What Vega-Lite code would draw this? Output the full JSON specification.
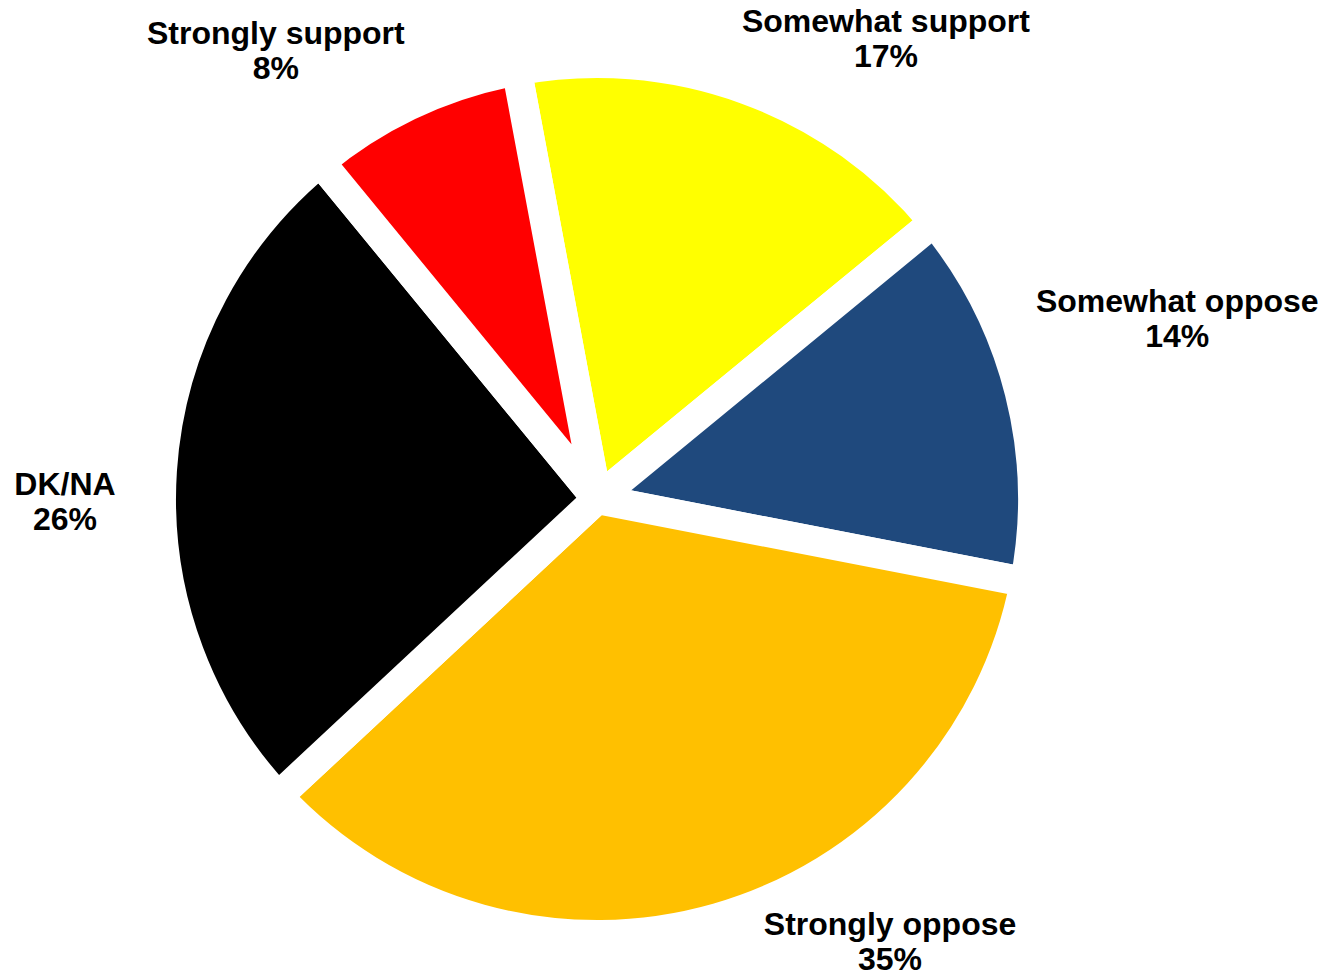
{
  "$schema": "https://vega.github.io/schema/vega-lite/v6.json",
  "width": 1194,
  "height": 958,
  "autosize": "none",
  "padding": {"left": 0, "top": 20, "right": 132, "bottom": 0},
  "background": "white",
  "view": {"stroke": null},
  "data": {
    "values": [
      {"category": "Somewhat support", "share": 0.17},
      {"category": "Somewhat oppose", "share": 0.14},
      {"category": "Strongly oppose", "share": 0.35},
      {"category": "DK/NA", "share": 0.26},
      {"category": "Strongly support", "share": 0.08}
    ]
  },
  "transform": [{"window": [{"op": "row_number", "as": "slice_order"}]}],
  "encoding": {
    "theta": {
      "field": "share",
      "type": "quantitative",
      "stack": true,
      "scale": {"range": [-0.185, 6.0982]}
    },
    "order": {"field": "slice_order", "type": "quantitative"}
  },
  "layer": [
    {
      "mark": {"type": "arc", "outerRadius": 436, "stroke": "#FFFFFF", "strokeWidth": 30, "strokeJoin": "miter"},
      "encoding": {
        "color": {
          "field": "category",
          "type": "nominal",
          "scale": {
            "domain": ["Somewhat support", "Somewhat oppose", "Strongly oppose", "DK/NA", "Strongly support"],
            "range": ["#FFFF00", "#1F497D", "#FFC000", "#000000", "#FF0000"]
          },
          "legend": null
        }
      }
    },
    {
      "mark": {
        "type": "text",
        "radius": 450,
        "align": "center",
        "baseline": "middle",
        "font": "Liberation Sans",
        "fontWeight": "bold",
        "fontSize": 32,
        "color": "#000000",
        "dx": {"expr": "datum.category === 'Somewhat support' ? 135 : datum.category === 'Somewhat oppose' ? 144 : datum.category === 'Strongly oppose' ? 169 : datum.category === 'DK/NA' ? -83 : -131"},
        "dy": {"expr": "(datum.category === 'Somewhat support' ? -36 : datum.category === 'Somewhat oppose' ? -69 : datum.category === 'Strongly oppose' ? 11 : datum.category === 'DK/NA' ? 34 : -39) - 18"}
      },
      "encoding": {"text": {"field": "category", "type": "nominal"}}
    },
    {
      "mark": {
        "type": "text",
        "radius": 450,
        "align": "center",
        "baseline": "middle",
        "font": "Liberation Sans",
        "fontWeight": "bold",
        "fontSize": 32,
        "color": "#000000",
        "dx": {"expr": "datum.category === 'Somewhat support' ? 135 : datum.category === 'Somewhat oppose' ? 144 : datum.category === 'Strongly oppose' ? 169 : datum.category === 'DK/NA' ? -83 : -131"},
        "dy": {"expr": "(datum.category === 'Somewhat support' ? -36 : datum.category === 'Somewhat oppose' ? -69 : datum.category === 'Strongly oppose' ? 11 : datum.category === 'DK/NA' ? 34 : -39) + 17"}
      },
      "encoding": {"text": {"field": "share", "type": "quantitative", "format": ".0%"}}
    }
  ]
}
